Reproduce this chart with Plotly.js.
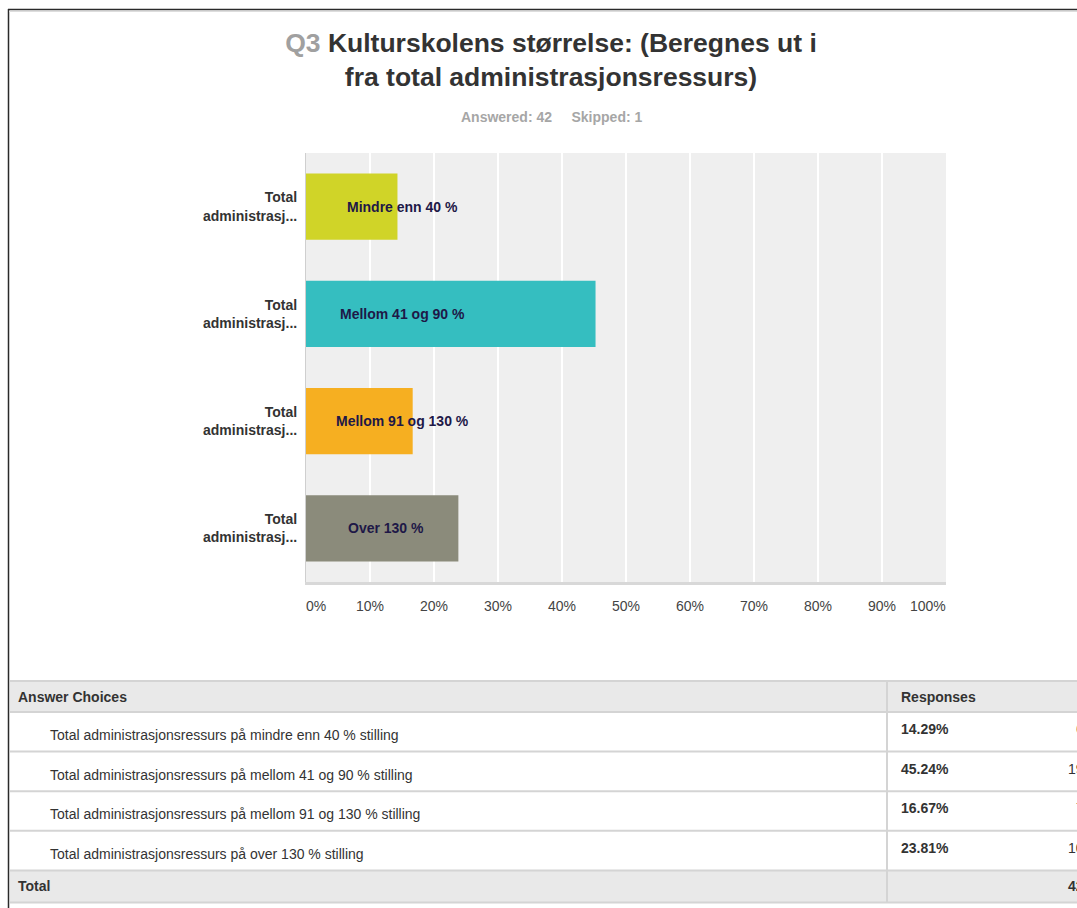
<!DOCTYPE html>
<html>
<head>
<meta charset="utf-8">
<script src="https://cdn.plot.ly/plotly-3.0.1.min.js"></script>
<style>
  html, body { margin: 0; padding: 0; background: #fff; overflow: hidden; }
  #chart { width: 1077px; height: 908px; }
</style>
</head>
<body>
<div id="chart"></div>
<script>
// ---- data ----
const questionNo = "Q3";
const questionText = "Kulturskolens størrelse: (Beregnes ut i<br>fra total administrasjonsressurs)";
const answered = 42;
const skipped = 1;
const answerChoices = [
  "Total administrasjonsressurs på mindre enn 40 % stilling",
  "Total administrasjonsressurs på mellom 41 og 90 % stilling",
  "Total administrasjonsressurs på mellom 91 og 130 % stilling",
  "Total administrasjonsressurs på over 130 % stilling"
];
const tickLabels = [
  "Total<br>administrasj...",
  "Total<br>administrasj...",
  "Total<br>administrasj...",
  "Total<br>administrasj..."
];
const barLabels = ["Mindre enn 40 %", "Mellom 41 og 90 %", "Mellom 91 og 130 %", "Over 130 %"];
const percents = [14.29, 45.24, 16.67, 23.81];
const counts = [6, 19, 7, 10];
const total = 42;
const xTickVals = [0, 0.1, 0.2, 0.3, 0.4, 0.5, 0.6, 0.7, 0.8, 0.9, 1.0];
const xTickText = ["0%", "10%", "20%", "30%", "40%", "50%", "60%", "70%", "80%", "90%", "100%"];

// ---- styles / layout ----
const FONT = "Liberation Sans, Arial, Helvetica, sans-serif";
const barColors = ["#d0d428", "#35bec0", "#f6af21", "#8b8b7b"];
const labelXPos = [0.15, 0.15, 0.15, 0.125];
const L = 306, R = 946, T = 153, B = 582;
const px = x => (x - L) / (R - L);
const py = y => (B - y) / (B - T);

const trace = {
  type: "bar",
  orientation: "h",
  y: answerChoices,
  x: percents.map(v => v / 100),
  marker: { color: barColors, line: { width: 0 } },
  hoverinfo: "skip"
};

const shapes = [];
const annotations = [];

// frame
shapes.push({ type: "line", xref: "paper", yref: "paper", x0: px(8), x1: px(1090), y0: py(9.5), y1: py(9.5), line: { color: "#2a2a2a", width: 1.5 } });
shapes.push({ type: "line", xref: "paper", yref: "paper", x0: px(8.5), x1: px(8.5), y0: py(9), y1: py(910), line: { color: "#2a2a2a", width: 1.5 } });
shapes.push({ type: "line", xref: "paper", yref: "paper", x0: px(9), x1: px(1090), y0: py(11.5), y1: py(11.5), line: { color: "#dddddd", width: 1 } });

// bar labels
barLabels.forEach((t, i) => {
  annotations.push({
    xref: "x", yref: "y", x: labelXPos[i], y: answerChoices[i], text: t, showarrow: false,
    xanchor: "center", yanchor: "middle",
    font: { family: FONT, size: 14, color: "#1e1847", weight: "bold" }
  });
});

// x tick labels (edge labels aligned inward, as in the reference)
xTickVals.forEach((v, i) => {
  const anchor = i === 0 ? "left" : (i === xTickVals.length - 1 ? "right" : "center");
  annotations.push({
    xref: "x", yref: "paper", x: v, y: py(606), xanchor: anchor, yanchor: "middle",
    xshift: anchor === "left" ? -2 : (anchor === "right" ? 2 : 0),
    text: xTickText[i], showarrow: false,
    font: { family: FONT, size: 14, color: "#444444" }
  });
});

// subtitle
annotations.push({
  xref: "paper", yref: "paper", x: px(551), y: py(117), xanchor: "center", yanchor: "middle",
  text: "Answered: " + answered + "&nbsp;&nbsp;&nbsp;&nbsp;&nbsp;Skipped: " + skipped, showarrow: false,
  font: { family: FONT, size: 14, color: "#a6a6a6", weight: "bold" }
});

// table
const tblLeft = 10, tblRight = 1100, colSplit = 887;
const headTop = 681, headH = 31, rowH = 39.6, totH = 32;
const rowTops = answerChoices.map((_, i) => headTop + headH + i * rowH);
const totTop = headTop + headH + answerChoices.length * rowH;
const tblBottom = totTop + totH;
const gridCol = "#d4d4d4";

shapes.push({ type: "rect", xref: "paper", yref: "paper", x0: px(tblLeft), x1: px(tblRight), y0: py(headTop), y1: py(headTop + headH), fillcolor: "#e9e9e9", line: { width: 0 }, layer: "below" });
shapes.push({ type: "rect", xref: "paper", yref: "paper", x0: px(tblLeft), x1: px(tblRight), y0: py(totTop), y1: py(tblBottom), fillcolor: "#e9e9e9", line: { width: 0 }, layer: "below" });
[headTop, headTop + headH, ...rowTops.slice(1), totTop, tblBottom].forEach(y => {
  shapes.push({ type: "line", xref: "paper", yref: "paper", x0: px(tblLeft), x1: px(tblRight), y0: py(y), y1: py(y), line: { color: gridCol, width: 2 } });
});
shapes.push({ type: "line", xref: "paper", yref: "paper", x0: px(colSplit), x1: px(colSplit), y0: py(headTop), y1: py(tblBottom), line: { color: gridCol, width: 2 } });

const cellFont = (w, s) => ({ family: FONT, size: s || 14, color: "#333333", weight: w ? "bold" : "normal" });
annotations.push({ xref: "paper", yref: "paper", x: px(16), y: py(headTop + 16), xanchor: "left", yanchor: "middle", showarrow: false, text: "Answer Choices", font: cellFont(true) });
annotations.push({ xref: "paper", yref: "paper", x: px(899), y: py(headTop + 16), xanchor: "left", yanchor: "middle", showarrow: false, text: "Responses", font: cellFont(true) });
answerChoices.forEach((c, i) => {
  annotations.push({ xref: "paper", yref: "paper", x: px(48), y: py(rowTops[i] + 23), xanchor: "left", yanchor: "middle", showarrow: false, text: c, font: cellFont(false, 14) });
  annotations.push({ xref: "paper", yref: "paper", x: px(899), y: py(rowTops[i] + 17), xanchor: "left", yanchor: "middle", showarrow: false, text: percents[i].toFixed(2) + "%", font: cellFont(true) });
  annotations.push({ xref: "paper", yref: "paper", x: px(1086), y: py(rowTops[i] + 17), xanchor: "right", yanchor: "middle", showarrow: false, text: String(counts[i]), font: cellFont(false) });
});
annotations.push({ xref: "paper", yref: "paper", x: px(16), y: py(totTop + 16), xanchor: "left", yanchor: "middle", showarrow: false, text: "Total", font: cellFont(true) });
annotations.push({ xref: "paper", yref: "paper", x: px(1086), y: py(totTop + 16), xanchor: "right", yanchor: "middle", showarrow: false, text: String(total), font: cellFont(true) });

const layout = {
  width: 1077, height: 908,
  margin: { l: L, r: 1077 - R, t: T, b: 908 - B, pad: 0 },
  paper_bgcolor: "#ffffff",
  plot_bgcolor: "#efefef",
  showlegend: false,
  bargap: 0.38,
  title: {
    text: '<span style="color:#a0a0a0">' + questionNo + '</span> ' + questionText,
    x: 551 / 1077, xref: "container", xanchor: "center",
    y: 1 - 52 / 908, yref: "container", yanchor: "top",
    font: { family: FONT, size: 26.5, color: "#333333", weight: "bold" }
  },
  xaxis: {
    range: [0, 1], tickvals: xTickVals, ticktext: xTickText,
    showticklabels: false,
    showgrid: true, gridcolor: "#ffffff", gridwidth: 1.5,
    zeroline: false, showline: true, linecolor: "#d8d8d8", linewidth: 3,
    ticks: "",
    fixedrange: true
  },
  yaxis: {
    type: "category", categoryorder: "array", categoryarray: answerChoices,
    tickvals: answerChoices, ticktext: tickLabels,
    range: [3.5, -0.5],
    showgrid: false, zeroline: false, showline: true, linecolor: "#cfcfcf", linewidth: 1,
    ticks: "", ticklabelstandoff: 5,
    tickfont: { family: FONT, size: 14, color: "#333333", weight: "bold" },
    fixedrange: true
  },
  shapes: shapes,
  annotations: annotations
};

Plotly.newPlot("chart", [trace], layout, { displayModeBar: false, staticPlot: true });
</script>
</body>
</html>
